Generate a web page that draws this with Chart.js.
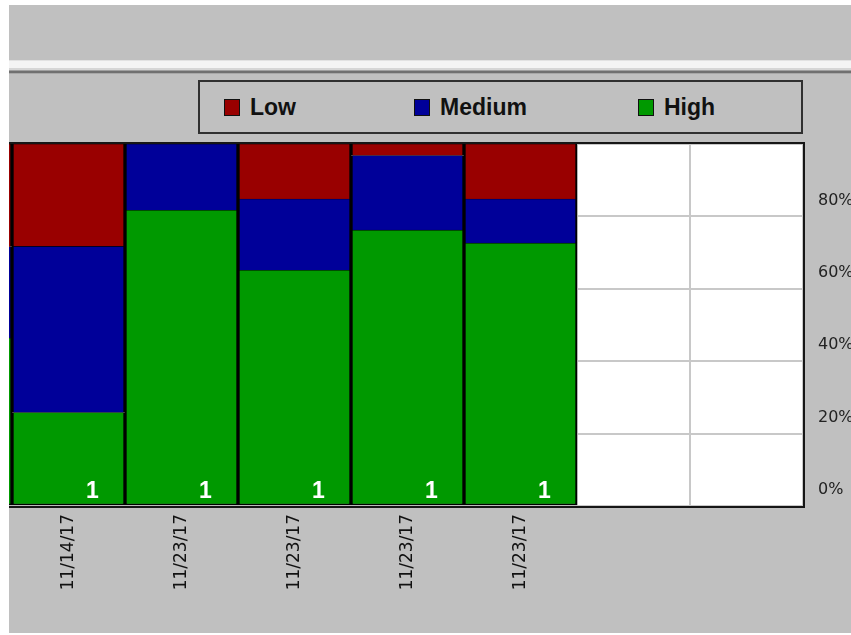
<!DOCTYPE html>
<html>
<head>
<meta charset="utf-8">
<script src="https://cdn.jsdelivr.net/npm/chart.js@4.4.0/dist/chart.umd.min.js"></script>
<style>
  html, body { margin: 0; padding: 0; background: #ffffff; width: 851px; height: 635px; overflow: hidden; }
  #frame { position: absolute; left: 9px; top: 5px; width: 842px; height: 628px; background: #c0c0c0; overflow: hidden; }
  #sep1 { position: absolute; left: 0; top: 55px; width: 842px; height: 1px; background: #e2e2e2; }
  #sep2 { position: absolute; left: 0; top: 56px; width: 842px; height: 7px; background: #f4f4f4; }
  #sep3 { position: absolute; left: 0; top: 63px; width: 842px; height: 2px; background: #d6d6d6; }
  #sep4 { position: absolute; left: 0; top: 65px; width: 842px; height: 1px; background: #a0a0a0; }
  #sep5 { position: absolute; left: 0; top: 66px; width: 842px; height: 2px; background: #707070; }
  #sep6 { position: absolute; left: 0; top: 68px; width: 842px; height: 1px; background: #a8a8a8; }
  #chartCanvas { position: absolute; left: -110px; top: 75px; }
  #legend { position: absolute; left: 189px; top: 75px; width: 601px; height: 50px; border: 2px solid #303030; background: #c0c0c0; }
  .lg-item { position: absolute; top: 0; height: 50px; display: flex; align-items: center; }
  .lg-box { width: 14px; height: 15px; border: 1px solid #111; margin-right: 10px; }
  .lg-text { font-family: "Liberation Sans", Arial, sans-serif; font-weight: bold; font-size: 23px; color: #111; }
</style>
</head>
<body>
<div id="frame">
  <div id="sep1"></div><div id="sep2"></div><div id="sep3"></div>
  <div id="sep4"></div><div id="sep5"></div><div id="sep6"></div>
  <canvas id="chartCanvas" width="964" height="553"></canvas>
  <div id="legend"></div>
</div>
<script>
// ---- data ----
const categories   = ['11/14/17', '11/14/17', '11/23/17', '11/23/17', '11/23/17', '11/23/17', '', ''];
const lowValues    = [28.4, 28.3, 0,    15.2, 3.2,  15.2, null, null];
const mediumValues = [25.2, 45.9, 18.3, 19.7, 20.6, 12.2, null, null];
const highValues   = [46.4, 25.8, 81.7, 65.1, 76.2, 72.6, null, null];
const barCounts    = [1, 1, 1, 1, 1, 1, null, null];
const yTickValues  = [0, 20, 40, 60, 80];
const seriesNames  = ['Low', 'Medium', 'High'];
const seriesColors = ['#990000', '#000099', '#009900'];

// ---- plugins ----
const plotBackground = {
  id: 'plotBackground',
  beforeDraw(chart) {
    const a = chart.chartArea, ctx = chart.ctx;
    ctx.save();
    ctx.fillStyle = '#ffffff';
    ctx.fillRect(a.left, a.top, a.right - a.left, a.bottom - a.top);
    ctx.restore();
  },
  afterDatasetsDraw(chart) {
    const a = chart.chartArea, ctx = chart.ctx;
    ctx.save();
    ctx.strokeStyle = '#161616';
    ctx.lineWidth = 2;
    ctx.strokeRect(a.left, a.top - 1, a.right - a.left + 1, a.bottom - a.top + 2);
    ctx.restore();
  }
};

const countLabels = {
  id: 'countLabels',
  afterDatasetsDraw(chart) {
    const ctx = chart.ctx;
    const meta = chart.getDatasetMeta(0);
    const bottom = chart.scales.y.getPixelForValue(0);
    ctx.save();
    ctx.fillStyle = '#ffffff';
    ctx.font = 'bold 23px "Liberation Sans", Arial, sans-serif';
    ctx.textAlign = 'center';
    ctx.textBaseline = 'alphabetic';
    meta.data.forEach((bar, i) => {
      if (barCounts[i] == null) return;
      ctx.fillText(String(barCounts[i]), bar.x + 24, bottom - 8);
    });
    ctx.restore();
  }
};

const stackOrder = [2, 1, 0]; // High at bottom, then Medium, Low on top
const valuesByName = { Low: lowValues, Medium: mediumValues, High: highValues };

const chart = new Chart(document.getElementById('chartCanvas'), {
  type: 'bar',
  data: {
    labels: categories,
    datasets: stackOrder.map((k, si) => ({
      label: seriesNames[k],
      data: valuesByName[seriesNames[k]],
      backgroundColor: seriesColors[k],
      borderColor: '#000000',
      borderWidth: { left: 2, right: 2, top: 0.6, bottom: si === 0 ? 1.5 : 0 },
      borderSkipped: false,
      barPercentage: 1,
      categoryPercentage: 1
    }))
  },
  options: {
    responsive: false,
    animation: false,
    devicePixelRatio: 1,
    layout: { padding: { top: 64, left: 0, right: 0, bottom: 0 } },
    plugins: {
      legend: { display: false },
      tooltip: { enabled: false }
    },
    scales: {
      x: {
        stacked: true,
        offset: true,
        afterFit(scale) { scale.height = 127; },
        grid: { display: true, offset: true, color: '#c8c8c8', lineWidth: 2, drawTicks: false },
        border: { display: false },
        ticks: {
          autoSkip: false, maxRotation: 90, minRotation: 90, padding: 8,
          color: '#111111',
          font: { family: '"DejaVu Sans", sans-serif', size: 17 }
        }
      },
      y: {
        stacked: true,
        position: 'right',
        min: 0, max: 100,
        afterFit(scale) { scale.width = 60; },
        afterBuildTicks(scale) {
          scale.ticks = yTickValues.concat([100]).map(v => ({ value: v }));
        },
        grid: { color: '#c8c8c8', lineWidth: 2, drawTicks: false },
        border: { display: false },
        ticks: {
          padding: 15,
          labelOffset: -16,
          color: '#222222',
          font: { family: '"DejaVu Sans", sans-serif', size: 16 },
          callback: v => (yTickValues.includes(v) ? v + '%' : '')
        }
      }
    }
  },
  plugins: [plotBackground, countLabels]
});

// ---- HTML legend built from the chart's datasets ----
const legendEl = document.getElementById('legend');
const legendLefts = [24, 214, 438];
chart.data.datasets.slice().reverse().forEach((ds, i) => {
  const item = document.createElement('div');
  item.className = 'lg-item';
  item.style.left = legendLefts[i] + 'px';
  const box = document.createElement('div');
  box.className = 'lg-box';
  box.style.background = ds.backgroundColor;
  const txt = document.createElement('span');
  txt.className = 'lg-text';
  txt.textContent = ds.label;
  item.appendChild(box);
  item.appendChild(txt);
  legendEl.appendChild(item);
});
</script>
</body>
</html>
